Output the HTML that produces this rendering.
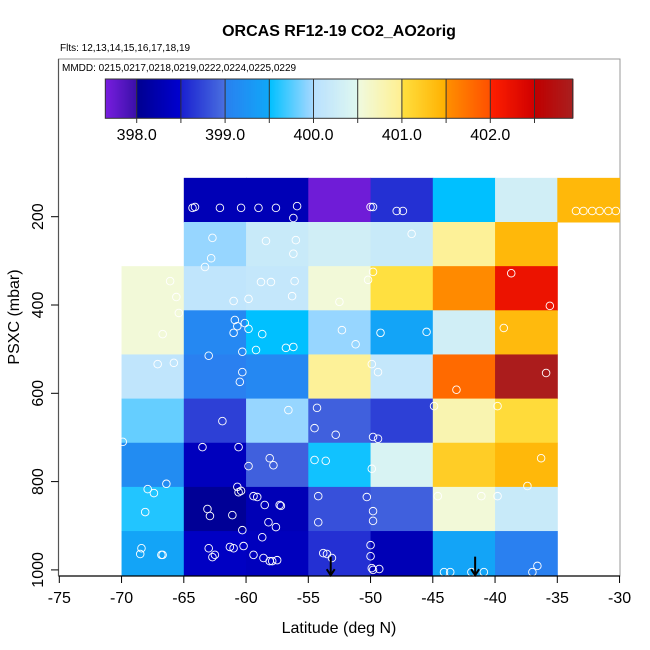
<!DOCTYPE html>
<html><head><meta charset="utf-8"><style>body{margin:0;background:#fff}svg{display:block;font-family:"Liberation Sans",sans-serif}</style></head>
<body>
<svg id="chart" width="650" height="650" viewBox="0 0 650 650" xmlns="http://www.w3.org/2000/svg">
<text x="339" y="36" font-size="16" font-weight="bold" text-anchor="middle">ORCAS RF12-19 CO2_AO2orig</text>
<text x="60" y="51" font-size="10">Flts: 12,13,14,15,16,17,18,19</text>
<rect x="58.5" y="59" width="561.5" height="517" fill="none" stroke="#999" stroke-width="1"/>
<text x="62" y="71" font-size="10">MMDD: 0215,0217,0218,0219,0222,0224,0225,0229</text>
<g id="cells"></g>
<g id="points"></g>
<g id="arrows"></g>
<g id="cbar"></g>
<g id="axes"></g>
<text x="339" y="633" font-size="16" text-anchor="middle">Latitude (deg N)</text>
<text transform="translate(19,317) rotate(-90)" font-size="16" text-anchor="middle">PSXC (mbar)</text>
</svg>
<script>
const lonEdges=[-70,-65,-60,-55,-50,-45,-40,-35,-30];
const pEdges=[112,212,312,412,512,612,712,812,912,1012];
const row0=[null,398.3,398.3,397.7,398.6,399.5,400.3,401.42];
const row1=[null,399.95,400.2,400.3,400.2,400.95,401.42,null];
const row2=[400.55,400.1,400.15,400.55,401.0,401.55,402.2,null];
const row3=[400.55,399.1,399.5,399.95,399.45,400.3,401.4,null];
const row4=[400.1,399.0,399.1,400.95,400.15,401.8,402.9,null];
const row5=[399.8,398.7,399.95,398.9,398.7,400.8,401.05,null];
const row6=[399.15,398.35,398.9,399.55,400.4,401.2,401.42,null];
const row7=[399.6,398.05,398.3,398.8,398.9,400.55,400.2,null];
const row8=[399.45,398.4,398.35,398.6,398.3,399.45,399.0,null];
const rows=[row0,row1,row2,row3,row4,row5,row6,row7,row8];
const pointLon=[-64.3,-64.1,-62.1,-60.4,-59.0,-57.6,-56.2,-55.9,-50.0,-49.8,-47.9,-47.4,-33.5,-32.9,-32.2,-31.6,-30.9,-30.3,
-62.7,-62.8,-63.3,-58.4,-56.0,-56.2,-46.7,
-66.1,-65.6,-61.0,-59.8,-58.8,-58.0,-56.3,-56.1,-49.8,-50.2,-52.5,-38.7,
-65.4,-60.7,-60.1,-60.9,-61.0,-59.8,-58.7,-56.8,-56.2,-59.2,-66.7,-52.3,-51.2,-49.2,-45.5,-39.3,-35.6,
-63.0,-60.3,-60.5,-60.3,-67.1,-65.8,-49.9,-49.4,-43.1,-35.9,
-56.6,-54.3,-54.5,-52.8,-49.8,-49.4,-44.9,-39.8,-69.9,-63.5,-60.6,-61.9,
-59.8,-58.1,-57.8,-54.5,-53.6,-49.9,-36.3,-37.4,
-67.9,-67.4,-66.4,-68.1,-68.4,-68.5,-66.8,-66.7,
-63.1,-62.9,-61.1,-60.4,-60.7,-60.6,-59.4,-59.1,-58.5,-58.2,-57.6,-57.3,-57.2,-54.2,-54.2,-50.3,-49.8,-49.8,-44.6,-41.1,-39.8,
-63.0,-62.7,-62.5,-61.3,-61.0,-60.2,-59.4,-58.6,-58.1,-57.9,-57.5,-53.8,-53.5,-53.1,-50.0,-49.9,-49.8,-49.3,-44.1,-43.6,-41.9,-40.9,-37.0,-36.6,-50.0,-58.7,-60.3];
const pointP=[180,178,180,180,180,180,203,176,178,178,187,187,187,187,187,187,187,187,
248,294,314,255,253,284,239,
346,382,391,386,348,348,380,346,325,343,393,328,
418,448,441,434,463,454,466,497,495,502,466,457,489,463,461,452,402,
515,506,574,552,534,531,534,552,592,554,
638,633,679,694,699,703,629,629,710,722,722,663,
765,747,763,751,753,771,747,810,
817,826,805,869,951,964,966,966,
862,878,876,821,812,824,833,835,853,892,903,853,855,833,892,835,867,889,833,833,833,
951,971,966,948,951,946,966,973,980,980,978,962,964,973,969,996,1000,998,1005,1005,1005,1005,1005,991,944,926,910];
const arrowLon=[-53.2,-41.6];
const xTicks=[-75,-70,-65,-60,-55,-50,-45,-40,-35,-30];
const yTicks=[200,400,600,800,1000];
const cbarTicks=[398.0,398.5,399.0,399.5,400.0,400.5,401.0,401.5,402.0,402.5];
const cbarLabels=["398.0","399.0","400.0","401.0","402.0"];

const NS="http://www.w3.org/2000/svg";
const xS=lon=>993.05+12.45*lon;
const yS=p=>216.7+(p-200)*0.4415;
const cbX=v=>136.7+(v-398)*88.4;
const segs=[[397.64,398.0,"#7a1ee0","#3a10a8"],[398.0,398.5,"#000090","#0000d0"],[398.5,399.0,"#1a20d0","#4a70e0"],[399.0,399.5,"#2a80f0","#10a8f8"],[399.5,400.0,"#00c0ff","#a8d8ff"],[400.0,400.5,"#b8e0ff","#e0f8f0"],[400.5,401.0,"#f0fae0","#fff090"],[401.0,401.5,"#ffe040","#ffb000"],[401.5,402.0,"#ff9000","#ff5000"],[402.0,402.5,"#ff2000","#d00000"],[402.5,402.95,"#c00000","#a82020"]];
function hex(h){return [1,3,5].map(i=>parseInt(h.substr(i,2),16));}
function cmap(v){let s=segs.find(s=>v>=s[0]&&v<s[1])||(v<segs[0][0]?segs[0]:segs[segs.length-1]);
 const t=Math.max(0,Math.min(1,(v-s[0])/(s[1]-s[0])));const a=hex(s[2]),b=hex(s[3]);
 return "rgb("+a.map((c,i)=>Math.round(c+(b[i]-c)*t)).join(",")+")";}
function mk(tag,attrs,parent){const e=document.createElementNS(NS,tag);for(const k in attrs)e.setAttribute(k,attrs[k]);parent.appendChild(e);return e;}

const cells=document.getElementById('cells');
rows.forEach((row,ri)=>row.forEach((v,ci)=>{if(v==null)return;
 const x0=xS(lonEdges[ci]),x1=xS(lonEdges[ci+1]),y0=yS(pEdges[ri]),y1=yS(pEdges[ri+1]);
 const r=mk('rect',{x:x0,y:y0,width:x1-x0+0.5,height:y1-y0+0.5,fill:cmap(v)},cells);
 
 }));

const pts=document.getElementById('points');
pointLon.forEach((lon,i)=>{const c=mk('circle',{cx:xS(lon),cy:yS(pointP[i]),r:3.8,fill:'none',stroke:'#fff','stroke-width':0.9},pts);
 
 });

const arr=document.getElementById('arrows');
arrowLon.forEach(lon=>{const x=xS(lon);const g=mk('g',{},arr);
 
 
 mk('line',{x1:x,y1:yS(970),x2:x,y2:yS(1012),stroke:'#000','stroke-width':2},g);
 mk('polyline',{points:`${x-4},${yS(1012)-6} ${x},${yS(1012)} ${x+4},${yS(1012)-6}`,fill:'none',stroke:'#000','stroke-width':2},g);});

const cb=document.getElementById('cbar');
for(let px=105.3;px<572.7;px+=1){const v=398+(px+0.5-136.7)/88.4;mk('rect',{x:px,y:79,width:1.2,height:39.3,fill:cmap(v)},cb);}
mk('rect',{x:105.3,y:79,width:467.4,height:39.3,fill:'none',stroke:'#333','stroke-width':1},cb);
cbarTicks.forEach(v=>{const x=cbX(v);mk('line',{x1:x,y1:79,x2:x,y2:123,stroke:'#333','stroke-width':1},cb);});
cbarLabels.forEach(l=>{const t=mk('text',{x:cbX(parseFloat(l)),y:140,'font-size':16,'text-anchor':'middle'},cb);t.textContent=l;
 
 });

const ax=document.getElementById('axes');
mk('line',{x1:58.5,y1:576,x2:620,y2:576,stroke:'#000','stroke-width':1.2},ax);
mk('line',{x1:58.5,y1:59,x2:58.5,y2:576,stroke:'#555','stroke-width':1.2},ax);
xTicks.forEach(v=>{const x=xS(v);mk('line',{x1:x,y1:576,x2:x,y2:583,stroke:'#000'},ax);
 const t=mk('text',{x:x,y:603,'font-size':16,'text-anchor':'middle'},ax);t.textContent=v;
 
 });
yTicks.forEach(v=>{const y=yS(v);mk('line',{x1:51,y1:y,x2:58.5,y2:y,stroke:'#000'},ax);
 const t=mk('text',{transform:`translate(43,${y}) rotate(-90)`,'font-size':16,'text-anchor':'middle'},ax);t.textContent=v;
 
 });
</script>
</body></html>
